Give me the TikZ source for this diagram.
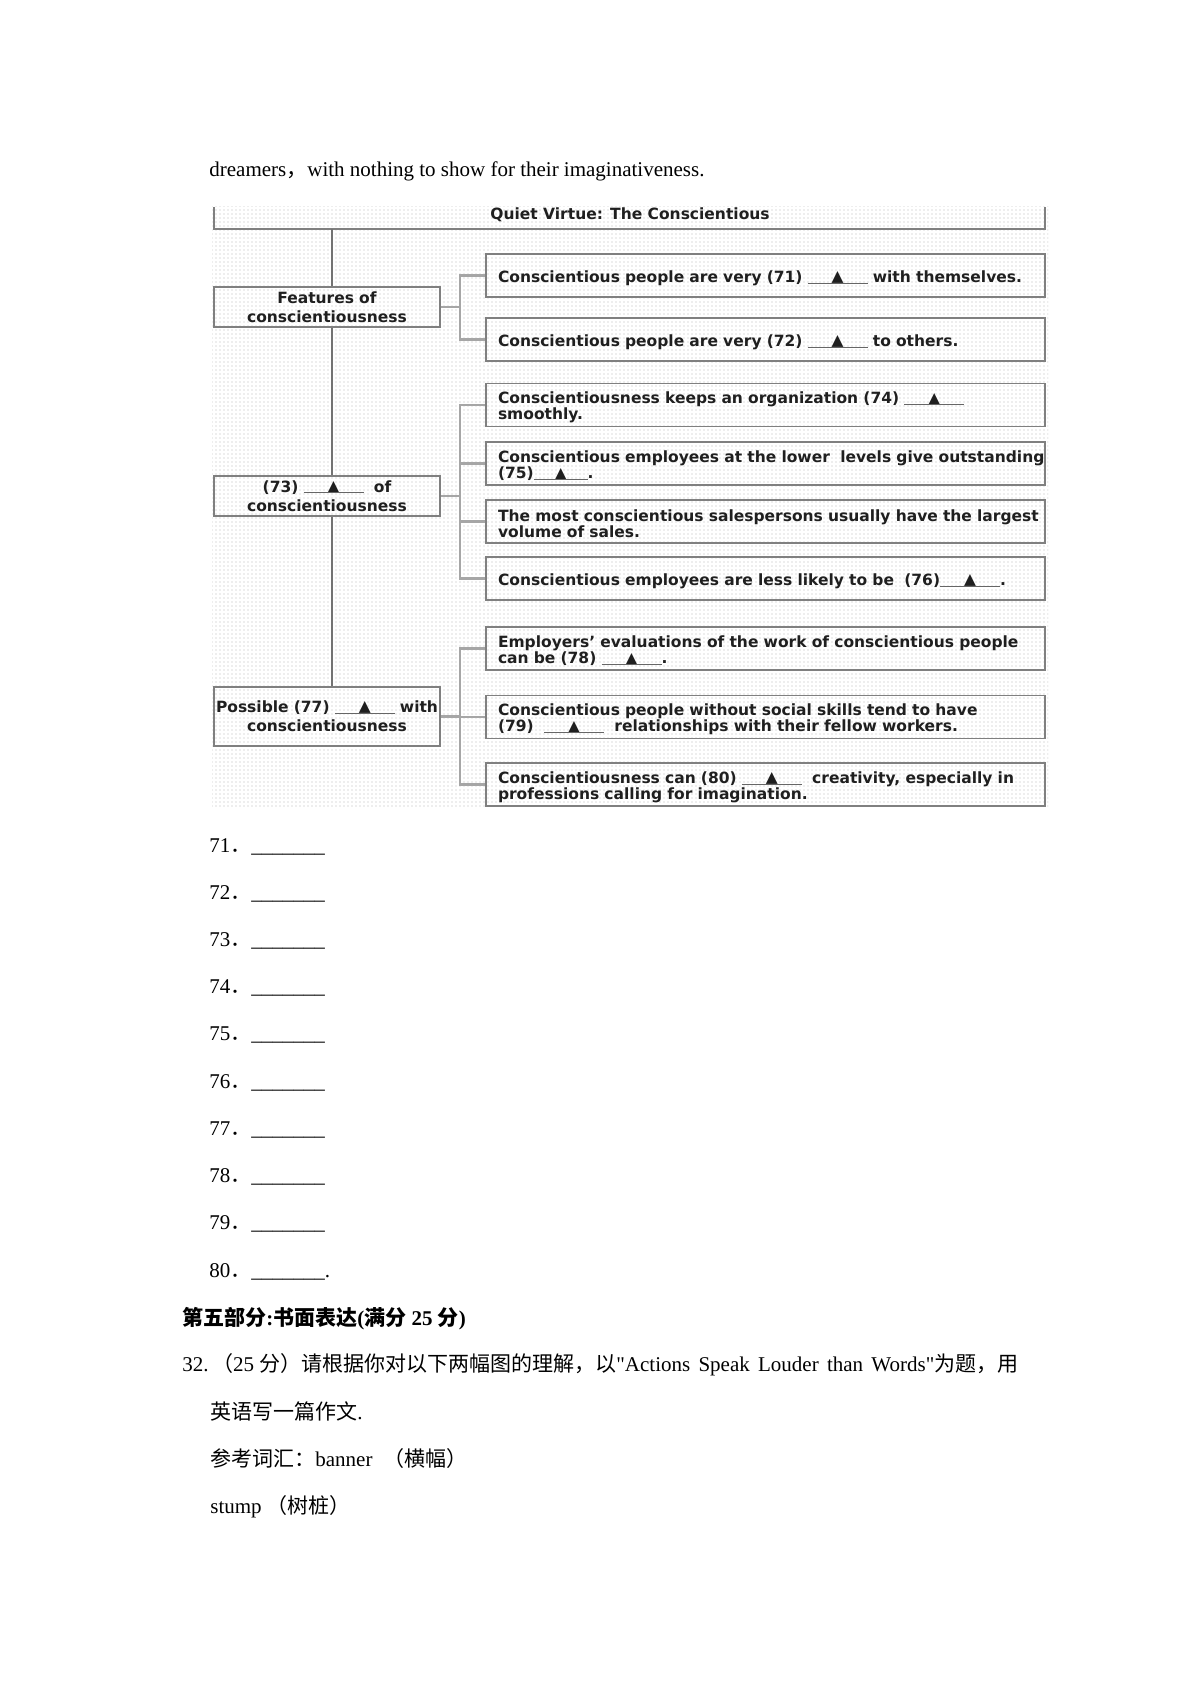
\documentclass[tikz,border=0pt]{standalone}
\usepackage{fontspec}
\setmainfont{Liberation Serif}
\newfontfamily\rawserif{Liberation Serif}
\newfontfamily\cjk{Noto Sans CJK SC}
\newfontfamily\dgf{DejaVu Sans}
\usetikzlibrary{patterns.meta}
\tikzdeclarepattern{
  name=fdots,
  type=uncolored,
  bounding box={(-1pt,-1pt) and (1pt,1pt)},
  tile size={(2pt,2pt)},
  code={\fill (0pt,0pt) circle (0.3pt);}
}
\newcommand\blk[1][30pt]{\makebox[#1][c]{\raisebox{0.4pt}{▲}}\kern-#1{\color{black!60}\rule[-0.6pt]{#1}{0.5pt}}}
\newcommand\ml[1]{\raisebox{-1.3pt}[\height][\depth]{#1}}
\newcommand\sq{{\rawserif"}}
\newcommand\ws{\ \kern1.5pt}
\begin{document}
\begin{tikzpicture}[x=0.5pt,y=-0.5pt,
  bt/.style={anchor=base west, inner sep=0pt, font=\fontsize{10.5}{12}\selectfont},
  dgtxt/.style={font=\dgf\bfseries\fontsize{7.75}{8}\selectfont, text=black!88},
  rbox/.style={dgtxt, draw=black!50, line width=0.9pt, minimum height=21.5pt,
    text width=267.5pt, inner xsep=6pt, inner ysep=0pt, align=left},
  lbox/.style={dgtxt, font=\dgf\bfseries\fontsize{7.75}{9.5}\selectfont,
    draw=black!50, line width=0.9pt, text width=111pt, inner xsep=1pt,
    inner ysep=0pt, align=center},
  trunk/.style={draw=black!55, line width=1pt},
  brk/.style={draw=black!35, line width=1.1pt}]
\useasboundingbox (0,0) rectangle (1200,1698);
\fill[white] (0,0) rectangle (1200,1698);
% dotted background of the chart
\fill[pattern=fdots, pattern color=black!28] (212,206) rectangle (1048,808);

% title box (top edge cut off)
\draw[draw=black!50, line width=0.9pt] (214,207) -- (214,229) -- (1045,229) -- (1045,207);
\node[dgtxt, inner sep=0pt] (title) at (630,215) {Quiet Virtue: The Conscientious};
\coordinate (tb) at (332,229);

% left boxes
\node[lbox, minimum height=20pt] (feat) at (327,307) {\mbox{Features of}\\\mbox{conscientiousness}};
\node[lbox, minimum height=20pt] (ben) at (327,496) {\mbox{(73) \blk\ \ of}\\\mbox{conscientiousness}};
\node[lbox, minimum height=29.5pt] (prob) at (327,716.5) {\mbox{Possible (77) \blk\ with}\\\mbox{conscientiousness}};

% right boxes
\node[rbox] (b71) at (765.5,275.5) {\ml{Conscientious people are very (71) \blk\ with themselves.}};
\node[rbox] (b72) at (765.5,339.5) {\ml{Conscientious people are very (72) \blk\ to others.}};
\node[rbox] (b74) at (765.5,405) {\ml{Conscientiousness keeps an organization (74) \blk}\\\ml{smoothly.}};
\node[rbox] (b75) at (765.5,463.5) {\ml{Conscientious employees at the lower\ \ levels give outstanding}\\\ml{(75)\blk[27pt].}};
\node[rbox] (bms) at (765.5,521.5) {\ml{The most conscientious salespersons usually have the largest}\\\ml{volume of sales.}};
\node[rbox] (b76) at (765.5,578.5) {\ml{Conscientious employees are less likely to be\ \ (76)\blk.}};
\node[rbox] (b78) at (765.5,648.5) {\ml{Employers’ evaluations of the work of conscientious people}\\\ml{can be (78) \blk.}};
\node[rbox] (b79) at (765.5,717) {\ml{Conscientious people without social skills tend to have}\\\ml{(79) \ \blk\ \ relationships with their fellow workers.}};
\node[rbox] (b80) at (765.5,784.5) {\ml{Conscientiousness can (80) \blk\ \ creativity, especially in}\\\ml{professions calling for imagination.}};

% trunk
\draw[trunk] (tb) -- (tb |- feat.north);
\draw[trunk] (tb |- feat.south) -- (tb |- ben.north);
\draw[trunk] (tb |- ben.south) -- (tb |- prob.north);

% brackets
\draw[brk] (feat.east) -- ++(19,0) coordinate (j1);
\draw[brk] (j1) |- (b71.west);
\draw[brk] (j1) |- (b72.west);
\draw[brk] (ben.east) -- ++(19,0) coordinate (j2);
\draw[brk] (j2) |- (b74.west);
\draw[brk] (j2) |- (b75.west);
\draw[brk] (j2) |- (bms.west);
\draw[brk] (j2) |- (b76.west);
\draw[brk] (prob.east) -- ++(19,0) coordinate (j3);
\draw[brk] (j3) |- (b78.west);
\draw[brk] (j3) |- (b79.west);
\draw[brk] (j3) |- (b80.west);

% body text
\node[bt] (t0) at (209,176) {dreamers{\cjk ，}with nothing to show for their imaginativeness.};
\foreach \i in {71,...,79}{
  \node[bt] (l\i) at (209,{852+47.2*(\i-71)}) {\i{\cjk ．}\_\_\_\_\_\_\_};
}
\node[bt] (l80) at (209,1277.6) {80{\cjk ．}\_\_\_\_\_\_\_.};
\node[bt] (h5) at (182,1325) {\bfseries{\cjk 第五部分}:{\cjk 书面表达}({\cjk 满分} 25 {\cjk 分})};
\node[bt] (q32) at (182,1371) {32.\,{\cjk （}25 {\cjk 分）请根据你对以下两幅图的理解，以}\sq Actions\ws Speak\ws Louder\ws than\ws Words\sq{\cjk 为题，用}};
\node[bt] (q32b) at (210,1419) {{\cjk 英语写一篇作文}.};
\node[bt] (q32c) at (210,1466) {{\cjk 参考词汇：}banner\ \ {\cjk （横幅）}};
\node[bt] (q32d) at (210,1513) {stump {\cjk （树桩）}};
\end{tikzpicture}
\end{document}
